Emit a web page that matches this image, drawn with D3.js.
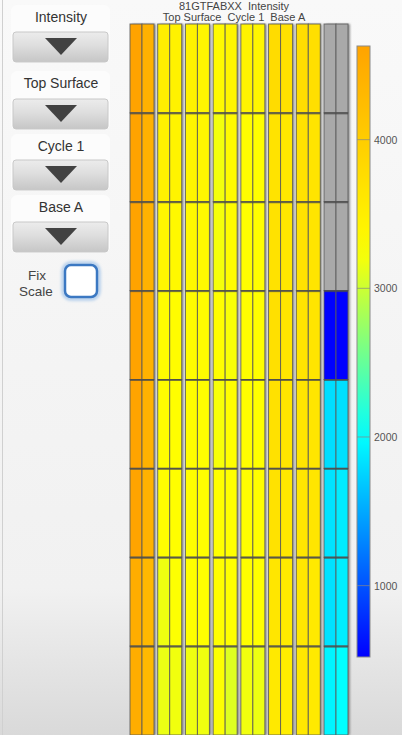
<!DOCTYPE html>
<html>
<head>
<meta charset="utf-8">
<script src="https://cdn.jsdelivr.net/npm/d3@7"></script>
<style>
  html, body { margin: 0; padding: 0; }
  body { width: 402px; height: 735px; overflow: hidden; font-family: "Liberation Sans", Arial, sans-serif; }
  text.title { white-space: pre; }
</style>
</head>
<body>
<svg id="chart" width="402" height="735"></svg>
<script>
// Flowcell run and selection shown in the heading / side controls
const flowcell = "81GTFABXX";
const metric = "Intensity";
const surface = "Top Surface";
const cycle = "Cycle 1";
const base = "Base A";

// Lanes 1-8, tiles (rows) 1-8, two swaths per lane
const lanes = [1, 2, 3, 4, 5, 6, 7, 8];
const tiles = [1, 2, 3, 4, 5, 6, 7, 8];
const swaths = [1, 2];

// Per lane: [swath 1, swath 2] intensity for each tile; null = no data
const lane1 = [[4630, 4420], [4630, 4420], [4630, 4410], [4630, 4410], [4620, 4400], [4620, 4410], [4480, 4310], [4480, 4300]];
const lane2 = [[3500, 3440], [3460, 3420], [3380, 3350], [3300, 3290], [3280, 3270], [3260, 3260], [3170, 3240], [3150, 3180]];
const lane3 = [[3450, 3400], [3400, 3370], [3350, 3330], [3300, 3290], [3280, 3270], [3270, 3260], [3250, 3250], [3170, 3175]];
const lane4 = [[3330, 3400], [3190, 3320], [3200, 3300], [3260, 3220], [3210, 3260], [3250, 3250], [3260, 3250], [3240, 3090]];
const lane5 = [[3430, 3380], [3280, 3270], [3270, 3260], [3260, 3260], [3260, 3250], [3270, 3260], [3260, 3250], [3180, 3160]];
const lane6 = [[3770, 3700], [3670, 3600], [3690, 3610], [3720, 3630], [3700, 3620], [3680, 3600], [3630, 3550], [3580, 3510]];
const lane7 = [[3760, 3730], [3700, 3650], [3680, 3640], [3650, 3640], [3640, 3630], [3630, 3620], [3610, 3570], [3590, 3560]];
const lane8 = [[null, null], [null, null], [null, null], [520, 520], [1810, 1820], [1840, 1890], [1830, 1900], [1940, 2000]];

// Colour bar tick labels
const colorTicks = [1000, 2000, 3000, 4000];

const laneValues = [lane1, lane2, lane3, lane4, lane5, lane6, lane7, lane8];
const cells = [];
lanes.forEach((lane, li) => {
  tiles.forEach((tile, ti) => {
    swaths.forEach((sw, si) => {
      cells.push({ lane, tile, swath: sw, value: laneValues[li][ti][si] });
    });
  });
});

const svg = d3.select("#chart");
const W = 402, H = 735;

const defs = svg.append("defs");
const bg = defs.append("linearGradient").attr("id", "bg").attr("x1", 0).attr("x2", 0).attr("y1", 0).attr("y2", 1);
bg.append("stop").attr("offset", "0%").attr("stop-color", "#f9f9f9");
bg.append("stop").attr("offset", "80%").attr("stop-color", "#f1f1f1");
bg.append("stop").attr("offset", "100%").attr("stop-color", "#d9d9d9");

const btn = defs.append("linearGradient").attr("id", "btn").attr("x1", 0).attr("x2", 0).attr("y1", 0).attr("y2", 1);
btn.append("stop").attr("offset", "0%").attr("stop-color", "#ececec");
btn.append("stop").attr("offset", "45%").attr("stop-color", "#dedede");
btn.append("stop").attr("offset", "100%").attr("stop-color", "#c6c6c6");

const shadow = defs.append("filter").attr("id", "laneShadow").attr("x", "-20%").attr("y", "-5%").attr("width", "150%").attr("height", "110%");
shadow.append("feDropShadow").attr("dx", 2).attr("dy", 0).attr("stdDeviation", 1.2).attr("flood-color", "#777").attr("flood-opacity", 0.8);

const glow = defs.append("filter").attr("id", "glow").attr("x", "-30%").attr("y", "-30%").attr("width", "160%").attr("height", "160%");
glow.append("feGaussianBlur").attr("stdDeviation", 1.5);

// page background
svg.append("rect").attr("width", W).attr("height", H).attr("fill", "url(#bg)");
svg.append("line").attr("x1", 2.5).attr("x2", 2.5).attr("y1", 0).attr("y2", H).attr("stroke", "#d0d0d0");

// ---- left control panel ----
const panel = svg.append("g").attr("class", "controls");
const controls = [
  { label: metric, ly: 22, by: 32 },
  { label: surface, ly: 88, by: 99 },
  { label: cycle, ly: 151, by: 160 },
  { label: base, ly: 212, by: 222 }
];
controls.forEach(c => {
  panel.append("rect").attr("x", 11).attr("y", c.ly - 17).attr("width", 99).attr("height", c.by - c.ly + 48)
    .attr("rx", 6).attr("fill", "#fcfcfc");
  panel.append("text").attr("x", 61).attr("y", c.ly).attr("text-anchor", "middle")
    .attr("font-size", 14).attr("fill", "#333").text(c.label);
  panel.append("rect").attr("x", 13).attr("y", c.by).attr("width", 95).attr("height", 30)
    .attr("rx", 3).attr("fill", "url(#btn)").attr("stroke", "#c8c8c8");
  panel.append("path")
    .attr("d", `M${45},${c.by + 6}L${77},${c.by + 6}L${61},${c.by + 23}Z`)
    .attr("fill", "#424242");
});
panel.append("text").attr("x", 37).attr("y", 280).attr("text-anchor", "middle")
  .attr("font-size", 13.5).attr("fill", "#444").text("Fix");
panel.append("text").attr("x", 36).attr("y", 296).attr("text-anchor", "middle")
  .attr("font-size", 13.5).attr("fill", "#444").text("Scale");
panel.append("rect").attr("x", 63).attr("y", 263).attr("width", 36).attr("height", 36).attr("rx", 8)
  .attr("fill", "none").attr("stroke", "#a9c8ea").attr("stroke-width", 3).attr("filter", "url(#glow)");
panel.append("rect").attr("x", 65).attr("y", 265).attr("width", 32).attr("height", 32).attr("rx", 6)
  .attr("fill", "#fff").attr("stroke", "#3b78c2").attr("stroke-width", 2.5);

// ---- heat map ----
const x = d3.scaleBand().domain(lanes).range([130, 348]).paddingInner(0.134);
const xs = d3.scaleBand().domain(swaths).range([0, x.bandwidth()]);
const y = d3.scaleBand().domain(tiles).range([24, 735]);

const vals = cells.filter(d => d.value != null).map(d => d.value);
const [vmin, vmax] = d3.extent(vals);
const color = d3.scaleLinear()
  .domain([vmin, 2000, 3250, vmax])
  .range(["#0000ff", "#00ffff", "#ffff00", "#ffa300"])
  .clamp(true);

const heat = svg.append("g").attr("class", "heatmap");
const laneG = heat.selectAll("g.lane").data(lanes).join("g")
  .attr("class", "lane")
  .attr("transform", d => `translate(${x(d)},0)`);

laneG.append("rect")
  .attr("x", 0).attr("y", y.range()[0]).attr("width", x.bandwidth()).attr("height", y.range()[1] - y.range()[0])
  .attr("fill", "#999").attr("filter", "url(#laneShadow)");

laneG.selectAll("rect.cell")
  .data(l => cells.filter(c => c.lane === l))
  .join("rect")
  .attr("class", "cell")
  .attr("x", d => xs(d.swath))
  .attr("y", d => y(d.tile))
  .attr("width", xs.bandwidth())
  .attr("height", y.bandwidth())
  .attr("fill", d => d.value == null ? "#a9a9a9" : color(d.value))
  .attr("stroke", "#5a5a5a")
  .attr("stroke-opacity", 0.85)
  .attr("stroke-width", 1);

// tile boundaries
laneG.selectAll("line.tile")
  .data(tiles.slice(1))
  .join("line")
  .attr("class", "tile")
  .attr("x1", 0).attr("x2", x.bandwidth())
  .attr("y1", d => y(d) + 0.5).attr("y2", d => y(d) + 0.5)
  .attr("stroke", "#4a4a4a").attr("stroke-opacity", 0.75).attr("stroke-width", 2);

// titles
svg.append("text").attr("class", "title").attr("x", 234).attr("y", 10).attr("text-anchor", "middle")
  .attr("font-size", 11).attr("fill", "#444").text(`${flowcell}  ${metric}`);
svg.append("text").attr("class", "title").attr("x", 234).attr("y", 21).attr("text-anchor", "middle")
  .attr("font-size", 11).attr("fill", "#444")
  .text(`${surface}  ${cycle}  ${base}`);

// ---- colour bar ----
const cbX = 357, cbW = 13, cbTop = 46, cbBottom = 657;
const cy = d3.scaleLinear().domain([vmin, vmax]).range([cbBottom, cbTop]);
const cbGrad = defs.append("linearGradient").attr("id", "cb").attr("x1", 0).attr("x2", 0).attr("y1", 1).attr("y2", 0);
d3.range(0, 1.0001, 0.05).forEach(t => {
  cbGrad.append("stop").attr("offset", `${t * 100}%`).attr("stop-color", color(vmin + t * (vmax - vmin)));
});
svg.append("rect").attr("x", cbX).attr("y", cbTop).attr("width", cbW).attr("height", cbBottom - cbTop)
  .attr("fill", "url(#cb)").attr("stroke", "#8a8a8a");

const cbAxis = d3.axisRight(cy).tickValues(colorTicks).tickSize(0).tickPadding(4).tickFormat(d3.format("d"));
const ax = svg.append("g").attr("transform", `translate(${cbX + cbW},0)`).call(cbAxis);
ax.select(".domain").remove();
ax.selectAll("text").attr("font-size", 10.5).attr("fill", "#555").attr("font-family", "Liberation Sans, Arial, sans-serif");
svg.append("g").selectAll("line").data(colorTicks).join("line")
  .attr("x1", cbX).attr("x2", cbX + cbW)
  .attr("y1", d => cy(d)).attr("y2", d => cy(d))
  .attr("stroke", "#888").attr("stroke-opacity", 0.7);
</script>
</body>
</html>
